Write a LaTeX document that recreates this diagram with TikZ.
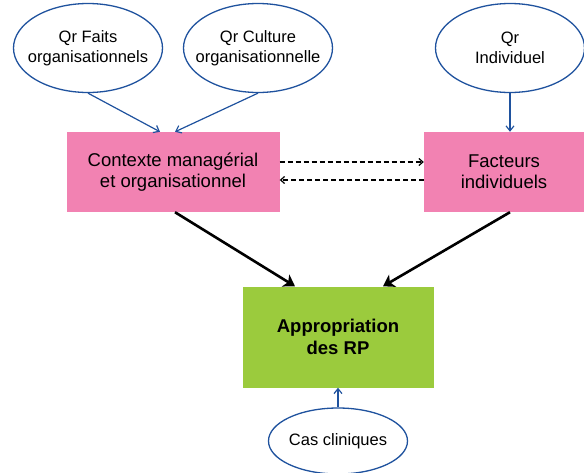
\documentclass[tikz,border=0pt]{standalone}
\usepackage{fontspec}
\setmainfont{Liberation Sans}
\usepackage{tikz}
\usetikzlibrary{arrows.meta,shapes,positioning,calc}
\definecolor{qrblue}{RGB}{31, 82, 158}
\definecolor{boxpink}{RGB}{242, 130, 178}
\definecolor{boxgreen}{RGB}{155, 203, 61}

\begin{document}
\begin{tikzpicture}[
    x=1pt, y=-1pt,
    qr/.style={ellipse, draw=qrblue, line width=1.3pt, fill=white, inner xsep=-10pt, inner ysep=0pt, minimum width=149pt, minimum height=89pt, align=center, font=\fontsize{16.5}{20}\selectfont},
    box/.style={rectangle, fill=boxpink, inner sep=0pt, minimum width=213pt, minimum height=80pt, align=center, font=\fontsize{18.5}{21}\selectfont},
    arr/.style={-{Straight Barb[length=5pt,width=8pt]}, line width=1.2pt, qrblue},
    dash arr/.style={-{Straight Barb[length=4pt,width=7pt]}, line width=1.2pt, dashed, dash pattern=on 5pt off 3pt},
    big arr/.style={-{Stealth[length=11pt,width=14pt,inset=3pt]}, line width=2.6pt},
]
\useasboundingbox (0,0) rectangle (584,472);

\node[qr] (faits) at (88,48) {Qr Faits\\organisationnels};
\node[qr] (culture) at (258,48) {Qr Culture\\organisationnelle};
\node[qr] (indiv) at (510,48) {Qr\\Individuel};

\node[box] (ctx) at (173,172) {Contexte manag\'erial\\et organisationnel};
\node[box, minimum width=160pt] (fac) at (504,172) {Facteurs\\individuels};

\node[box, fill=boxgreen, minimum width=191pt, minimum height=101pt, font=\fontsize{18.5}{22}\selectfont\bfseries] (app) at (338,337) {Appropriation\\des RP};

\node[qr, inner xsep=0pt, minimum width=139pt, minimum height=66pt] (cas) at (338,441) {Cas cliniques};

\draw[arr] (faits.south) -- ([xshift=-13pt]ctx.north);
\draw[arr] (culture.south) -- ([xshift=2pt]ctx.north);
\draw[arr] (indiv.south) -- (indiv.south |- fac.north);

\draw[dash arr] ([yshift=10pt]ctx.east) -- ([yshift=10pt]fac.west);
\draw[dash arr] ([yshift=-8pt]fac.west) -- ([yshift=-8pt]ctx.east);

\draw[big arr] ([xshift=2pt]ctx.south) -- ([xshift=-43pt]app.north);
\draw[big arr] ([xshift=6pt]fac.south) -- ([xshift=45pt]app.north);

\draw[arr] (cas.north) -- (app.south);
\end{tikzpicture}
\end{document}
